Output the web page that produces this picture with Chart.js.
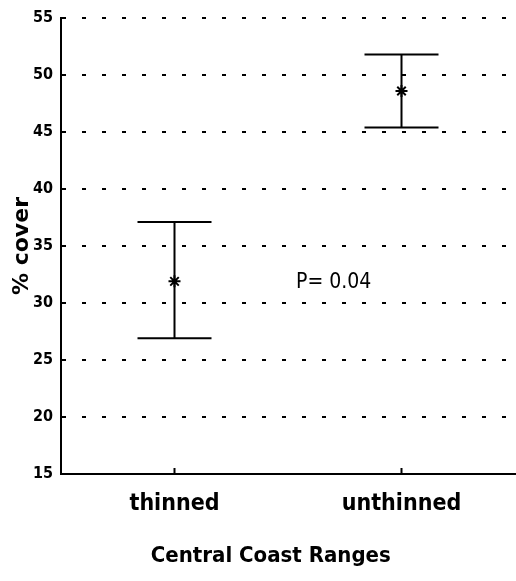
<!DOCTYPE html>
<html>
<head>
<meta charset="utf-8">
<script src="https://cdn.jsdelivr.net/npm/chart.js@4"></script>
<style>
  html, body { margin: 0; padding: 0; background: #fff; overflow: hidden; }
  #wrap { width: 516px; height: 581px; position: relative; }
  canvas { display: block; }
</style>
</head>
<body>
<div id="wrap"><canvas id="chart"></canvas></div>
<script>
// ── Data ────────────────────────────────────────────────────────────

const CATEGORIES = ['thinned', 'unthinned'];
const MEANS = [31.9, 48.6];
const LOWER = [26.9, 45.4];
const UPPER = [37.1, 51.8];
const Y_TICKS = [15, 20, 25, 30, 35, 40, 45, 50, 55];
const P_LABEL = 'P= 0.04';

const FONT = "'DejaVu Sans Condensed', 'Liberation Sans', sans-serif";
const WIDE_FONT = "'DejaVu Sans', sans-serif";

// ── Plugins ─────────────────────────────────────────────────────────

// Vertical error bars with caps, small x tick marks, P-value note
const errorBarPlugin = {
  id: 'errorBars',
  afterDatasetsDraw(chart) {
    const ctx = chart.ctx;
    const x = chart.scales.x;
    const y = chart.scales.y;
    ctx.save();
    ctx.strokeStyle = '#000';
    ctx.lineWidth = 2;
    CATEGORIES.forEach((c, i) => {
      const px = x.getPixelForValue(i);
      const top = y.getPixelForValue(UPPER[i]);
      const bot = y.getPixelForValue(LOWER[i]);
      const cap = 37;
      ctx.beginPath();
      ctx.moveTo(px, top); ctx.lineTo(px, bot);
      ctx.moveTo(px - cap, top); ctx.lineTo(px + cap, top);
      ctx.moveTo(px - cap, bot); ctx.lineTo(px + cap, bot);
      ctx.stroke();
      ctx.beginPath();
      ctx.moveTo(px, y.bottom); ctx.lineTo(px, y.bottom - 6);
      ctx.stroke();
    });
    ctx.fillStyle = '#000';
    ctx.font = `21px ${FONT}`;
    ctx.textAlign = 'left';
    ctx.textBaseline = 'middle';
    ctx.fillText(P_LABEL, x.left + 235, y.getPixelForValue(31.8));
    ctx.restore();
  }
};
Chart.register(errorBarPlugin);

// ── Chart ───────────────────────────────────────────────────────────

new Chart(document.getElementById('chart'), {
  type: 'line',
  data: {
    labels: CATEGORIES,
    datasets: [{
      data: MEANS,
      showLine: false,
      pointStyle: 'star',
      pointRadius: 6,
      pointBorderWidth: 2,
      borderColor: '#000',
      backgroundColor: '#000',
    }],
  },
  options: {
    responsive: true,
    maintainAspectRatio: false,
    animation: false,
    layout: {
      autoPadding: false,
      padding: { top: 18, right: 1, left: 0, bottom: 0 },
    },
    plugins: {
      legend: { display: false },
      tooltip: { enabled: false },
    },
    scales: {
      x: {
        offset: true,
        grid: { display: false, drawTicks: false },
        border: { color: '#000', width: 2 },
        ticks: {
          color: '#000',
          padding: 16,
          font: { family: FONT, size: 23, weight: 'bold' },
        },
        title: {
          display: true,
          // trailing spaces nudge the centred title left, as in the original
          text: 'Central Coast Ranges\u00a0\u00a0\u00a0\u00a0\u00a0',
          color: '#000',
          padding: { top: 0, bottom: 12 },
          font: { family: FONT, size: 22, weight: 'bold' },
        },
        afterFit: s => {
          s.height = 107;
          s.paddingLeft = 0;
          s.paddingRight = 0;
        },
      },
      y: {
        min: 15,
        max: 55,
        afterBuildTicks: s => { s.ticks = Y_TICKS.map(v => ({ value: v })); },
        grid: {
          drawTicks: false,
          color: ctx => ctx.tick.value === 15 ? 'rgba(0,0,0,0)' : '#000',
          lineWidth: 2,
        },
        border: { color: '#000', width: 2, dash: [4, 16] },
        ticks: {
          color: '#000',
          padding: 8,
          font: { family: FONT, size: 16, weight: 'bold' },
        },
        title: {
          display: true,
          text: '% cover',
          color: '#000',
          padding: { top: 9, bottom: 0 },
          font: { family: WIDE_FONT, size: 22, weight: 'bold' },
        },
        afterFit: s => {
          s.width = 61;
          s.paddingTop = 0;
          s.paddingBottom = 0;
        },
      },
    },
  },
});
</script>
</body>
</html>
